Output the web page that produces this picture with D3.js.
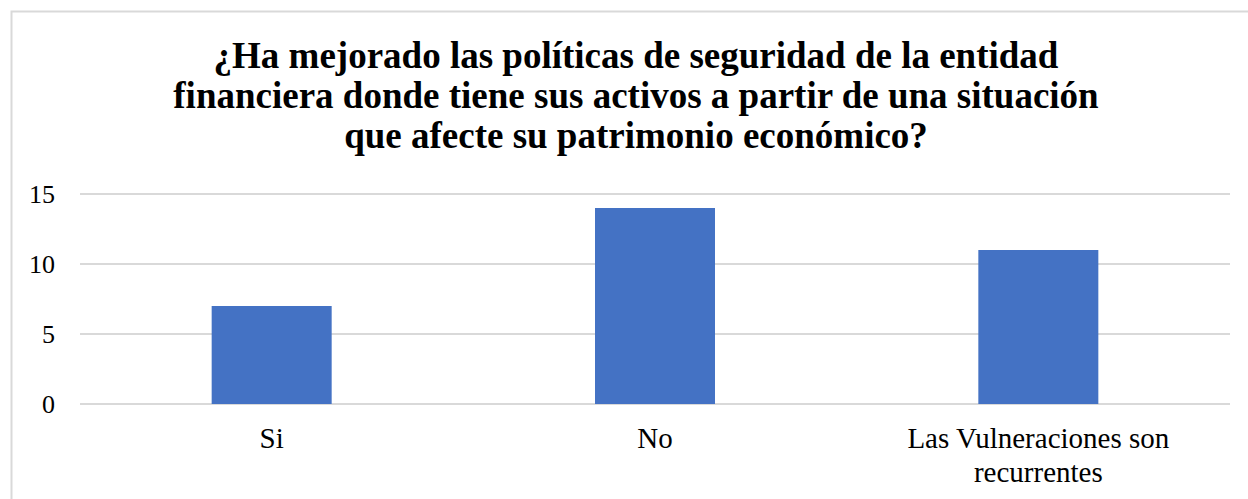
<!DOCTYPE html>
<html><head><meta charset="utf-8">
<script src="https://cdn.jsdelivr.net/npm/d3@7"></script>
<style>html,body{margin:0;padding:0;background:#fff;}svg{display:block;}</style>
</head><body>
<svg id="chart" width="1248" height="499"></svg>
<script>
const categories = ["Si", "No", "Las Vulneraciones son recurrentes"];
const values = [7, 14, 11];
const yTicks = [0, 5, 10, 15];
const titleLines = [
  "¿Ha mejorado las políticas de seguridad de la entidad",
  "financiera donde tiene sus activos a partir de una situación",
  "que afecte su patrimonio económico?"
];
const catLabelLines = [["Si"], ["No"], ["Las Vulneraciones son", "recurrentes"]];

(function () {
const svg = d3.select("#chart");
const font = "Liberation Serif";

// chart border
svg.append("path")
  .attr("d", "M11.5,520 L11.5,11.5 L1260,11.5")
  .attr("fill", "none").attr("stroke", "#d9d9d9").attr("stroke-width", 2);

const pLeft = 80, pRight = 1230, pTop = 194, pBottom = 404;
const x = d3.scaleBand().domain(categories).range([pLeft, pRight]).padding(0);
const y = d3.scaleLinear().domain([0, 15]).range([pBottom, pTop]);

// gridlines
svg.append("g").selectAll("line").data(yTicks).join("line")
  .attr("x1", pLeft).attr("x2", pRight)
  .attr("y1", d => y(d)).attr("y2", d => y(d))
  .attr("stroke", "#d9d9d9").attr("stroke-width", 2);

// y axis labels
const yAxis = d3.axisLeft(y).tickValues(yTicks).tickSize(0).tickPadding(0);
const ya = svg.append("g").attr("transform", `translate(55,0)`).call(yAxis);
ya.select(".domain").remove();
ya.selectAll("text").style("font-family", font).style("font-size", "26px").attr("fill", "#000").attr("dy", "0.34em");

// bars
const barW = 120;
svg.append("g").selectAll("rect").data(values).join("rect")
  .attr("x", (d, i) => x(categories[i]) + x.bandwidth() / 2 - barW / 2)
  .attr("width", barW)
  .attr("y", d => y(d))
  .attr("height", d => y(0) - y(d))
  .attr("fill", "#4472C4");

// category labels
const xl = svg.append("g");
categories.forEach((c, i) => {
  const cx = x(c) + x.bandwidth() / 2;
  const t = xl.append("text")
    .attr("x", cx)
    .attr("y", 448)
    .attr("text-anchor", "middle")
    .style("font-family", font).style("font-size", "29px").attr("fill", "#000");
  catLabelLines[i].forEach((ln, j) => {
    t.append("tspan").attr("x", cx).attr("dy", j === 0 ? 0 : 34).text(ln);
  });
});

// title
const tt = svg.append("text")
  .attr("text-anchor", "middle")
  .style("font-family", font).style("font-size", "37px").style("font-weight", "bold").attr("fill", "#000");
titleLines.forEach((ln, j) => {
  tt.append("tspan").attr("x", 636).attr("y", 68 + j * 40).text(ln);
});
})();
</script>
</body></html>
